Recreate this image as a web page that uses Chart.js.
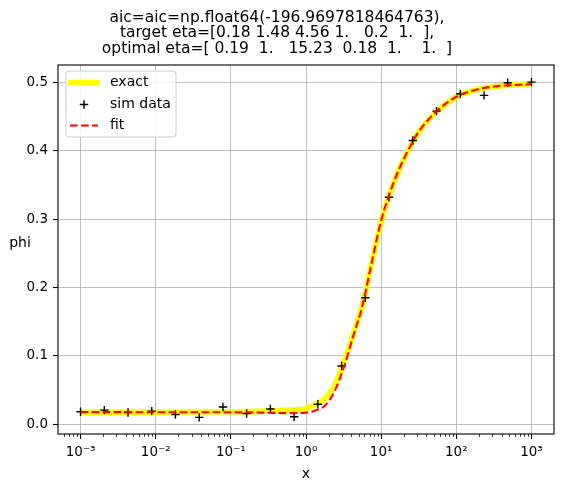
<!DOCTYPE html>
<html>
<head>
<meta charset="utf-8">
<script src="https://cdn.jsdelivr.net/npm/chart.js@4"></script>
<style>
  html, body { margin: 0; padding: 0; background: #fff; }
  #wrap { width: 564px; height: 492px; }
</style>
</head>
<body>
<div id="wrap"><canvas id="myChart"></canvas></div>
<script>
const titleLines = [
  'aic=aic=np.float64(-196.9697818464763),',
  'target eta=[0.18 1.48 4.56 1.   0.2  1.  ],',
  'optimal eta=[ 0.19  1.   15.23  0.18  1.    1.  ]'
];

// sim data
const simX = [0.001, 0.00207, 0.00428, 0.00886, 0.0183, 0.0379, 0.0785, 0.162, 0.336, 0.695,
              1.44, 2.98, 6.16, 12.7, 26.4, 54.6, 113, 234, 483, 1000];
const simPhi = [0.018, 0.0205, 0.017, 0.019, 0.014, 0.0098, 0.025, 0.0156, 0.022, 0.0107,
                0.029, 0.085, 0.185, 0.332, 0.415, 0.458, 0.483, 0.481, 0.4995, 0.5005];

// exact and fit curves, sampled from the plot
const curveX = [0.001, 0.01, 0.1, 0.316, 0.562, 1, 1.33, 1.78, 2.37, 3.16, 4.22, 5.62, 7.5,
                10, 13.3, 17.8, 23.7, 31.6, 56.2, 100, 178, 316, 1000];
const exactPhi = [0.0175, 0.0175, 0.018, 0.019, 0.0205, 0.023, 0.029, 0.037, 0.056, 0.090, 0.131,
                  0.175, 0.237, 0.298, 0.341, 0.376, 0.404, 0.428, 0.459, 0.479, 0.489, 0.494, 0.4985];
const fitPhi = [0.0175, 0.0174, 0.0172, 0.0167, 0.016, 0.0168, 0.020, 0.027, 0.047, 0.082, 0.128,
                0.173, 0.237, 0.298, 0.341, 0.376, 0.404, 0.428, 0.459, 0.479, 0.489, 0.494, 0.4975];

const xTicks = [0.001, 0.01, 0.1, 1, 10, 100, 1000];
const xTickLabels = ['10⁻³', '10⁻²', '10⁻¹', '10⁰', '10¹', '10²', '10³'];
const yTicks = [0, 0.1, 0.2, 0.3, 0.4, 0.5];

const FONT = '"DejaVu Sans", sans-serif';

// frame, minor ticks, horizontal ylabel and the legend box
const extras = {
  id: 'extras',
  afterDraw(chart) {
    const ctx = chart.ctx;
    const a = chart.chartArea;
    const sx = chart.scales.x;
    ctx.save();

    ctx.strokeStyle = '#000';
    ctx.lineWidth = 0.8;
    for (let d = -4; d <= 3; d++) {
      for (let m = 2; m <= 9; m++) {
        const v = m * Math.pow(10, d);
        if (v < sx.min || v > sx.max) continue;
        const px = Math.round(sx.getPixelForValue(v)) + 0.5;
        ctx.beginPath();
        ctx.moveTo(px, a.bottom);
        ctx.lineTo(px, a.bottom + 2.8);
        ctx.stroke();
      }
    }

    ctx.lineWidth = 1.1;
    ctx.strokeRect(a.left, a.top, a.right - a.left, a.bottom - a.top);

    ctx.fillStyle = '#000';
    ctx.font = '14px ' + FONT;
    ctx.textAlign = 'center';
    ctx.textBaseline = 'middle';
    ctx.fillText('phi', 20, (a.top + a.bottom) / 2 - 6);

    // legend
    const lx = a.left + 8, ly = a.top + 6, lw = 110, lh = 66;
    ctx.beginPath();
    ctx.roundRect(lx, ly, lw, lh, 3);
    ctx.fillStyle = 'rgba(255,255,255,0.8)';
    ctx.fill();
    ctx.strokeStyle = '#cccccc';
    ctx.lineWidth = 1;
    ctx.stroke();

    const rows = [ly + 11.5, ly + 33.5, ly + 54.5];
    ctx.lineWidth = 5.6;
    ctx.strokeStyle = '#ffff00';
    ctx.beginPath();
    ctx.moveTo(lx + 2, rows[0]);
    ctx.lineTo(lx + 34, rows[0]);
    ctx.stroke();

    ctx.lineWidth = 1.4;
    ctx.strokeStyle = '#000';
    ctx.beginPath();
    ctx.moveTo(lx + 18 - 4.2, rows[1]);
    ctx.lineTo(lx + 18 + 4.2, rows[1]);
    ctx.moveTo(lx + 18, rows[1] - 4.2);
    ctx.lineTo(lx + 18, rows[1] + 4.2);
    ctx.stroke();

    ctx.lineWidth = 2.1;
    ctx.strokeStyle = '#ff0000';
    ctx.setLineDash([7.7, 3.3]);
    ctx.beginPath();
    ctx.moveTo(lx + 4, rows[2]);
    ctx.lineTo(lx + 32, rows[2]);
    ctx.stroke();
    ctx.setLineDash([]);

    ctx.fillStyle = '#000';
    ctx.textAlign = 'left';
    ctx.fillText('exact', lx + 44, rows[0]);
    ctx.fillText('sim data', lx + 44, rows[1]);
    ctx.fillText('fit', lx + 44, rows[2]);

    ctx.restore();
  }
};

const ctx = document.getElementById('myChart');
new Chart(ctx, {
  type: 'line',
  data: {
    datasets: [{
      label: 'exact',
      data: curveX.map((x, i) => ({ x: x, y: exactPhi[i] })),
      borderColor: '#ffff00',
      borderWidth: 5.6,
      pointRadius: 0,
      cubicInterpolationMode: 'monotone',
      order: 3
    },
    {
      label: 'sim data',
      data: simX.map((x, i) => ({ x: x, y: simPhi[i] })),
      showLine: false,
      pointStyle: 'cross',
      pointRadius: 4.2,
      pointHoverRadius: 4.2,
      pointBorderColor: '#000',
      pointBorderWidth: 1.4,
      order: 2
    },
    {
      label: 'fit',
      data: curveX.map((x, i) => ({ x: x, y: fitPhi[i] })),
      borderColor: '#ff0000',
      borderWidth: 2.1,
      borderDash: [7.7, 3.3],
      pointRadius: 0,
      cubicInterpolationMode: 'monotone',
      order: 1
    }]
  },
  options: {
    responsive: true,
    maintainAspectRatio: false,
    animation: false,
    layout: { padding: { left: 0, right: 10, top: 0, bottom: 0 } },
    plugins: {
      legend: { display: false },
      tooltip: { enabled: false },
      title: {
        display: true,
        text: titleLines,
        color: '#000',
        font: { family: FONT, size: 15.5, weight: 'normal', lineHeight: 1 },
        padding: { top: 10, bottom: 8.5 }
      }
    },
    scales: {
      x: {
        type: 'logarithmic',
        min: 0.000501,
        max: 1995,
        afterFit: s => { s.height = 58; },
        afterBuildTicks: s => { s.ticks = xTicks.map(v => ({ value: v })); },
        ticks: {
          callback: (v, i) => xTickLabels[i],
          autoSkip: false,
          maxRotation: 0,
          color: '#000',
          padding: 5,
          font: { family: FONT, size: 13.5 }
        },
        grid: { color: '#b0b0b0', lineWidth: 0.8, tickColor: '#000', tickLength: 5, tickWidth: 1.1 },
        border: { display: false },
        title: {
          display: true,
          text: 'x',
          color: '#000',
          font: { family: FONT, size: 14 },
          padding: { top: 2, bottom: 9 }
        }
      },
      y: {
        min: -0.0145,
        max: 0.5255,
        afterFit: s => { s.width = 58; },
        afterBuildTicks: s => { s.ticks = yTicks.map(v => ({ value: v })); },
        ticks: {
          callback: v => v.toFixed(1),
          color: '#000',
          padding: 5,
          font: { family: FONT, size: 13.5 }
        },
        grid: { color: '#b0b0b0', lineWidth: 0.8, tickColor: '#000', tickLength: 5, tickWidth: 1.1 },
        border: { display: false }
      }
    }
  },
  plugins: [extras]
});
</script>
</body>
</html>
